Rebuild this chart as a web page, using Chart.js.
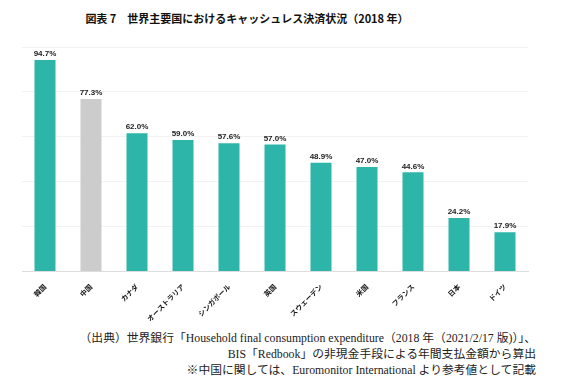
<!DOCTYPE html>
<html>
<head>
<meta charset="utf-8">
<script src="https://cdn.jsdelivr.net/npm/chart.js@4"></script>
<style>
  body { margin: 0; background: #fff; width: 570px; height: 387px; position: relative; overflow: hidden; }
  #titulo { position: absolute; left: 0; width: 494px; top: 10px; text-align: center; font: bold 11px 'Noto Sans CJK JP', sans-serif; color: #111; white-space: nowrap; }
  #wrap { position: absolute; left: 0; top: 0; width: 570px; height: 326px; }
  #pie { position: absolute; right: 34px; top: 331px; text-align: right; font: 11.8px 'Liberation Serif', 'Noto Sans CJK JP', serif; color: #222; line-height: 15.8px; white-space: nowrap; }
</style>
</head>
<body>
<div id="titulo">図表 7　世界主要国におけるキャッシュレス決済状況（2018 年）</div>
<div id="wrap"><canvas id="grafico"></canvas></div>
<div id="pie">（出典）世界銀行「Household final consumption expenditure（2018 年（2021/2/17 版)）」、<br>BIS「Redbook」の非現金手段による年間支払金額から算出<br>※中国に関しては、Euromonitor International より参考値として記載</div>
<script>
const paises = ['韓国', '中国', 'カナダ', 'オーストラリア', 'シンガポール', '英国', 'スウェーデン', '米国', 'フランス', '日本', 'ドイツ'];
const valores = [94.7, 77.3, 62.0, 59.0, 57.6, 57.0, 48.9, 47.0, 44.6, 24.2, 17.9];
const colores = paises.map(p => p === '中国' ? '#cccccc' : '#2eb5aa');

// etiquetas encima de cada barra
const etiquetas = {
    id: 'etiquetas',
    afterDatasetsDraw(chart) {
        const ctx = chart.ctx;
        const meta = chart.getDatasetMeta(0);
        ctx.save();
        ctx.font = 'bold 8px "Liberation Sans", sans-serif';
        ctx.fillStyle = '#222';
        ctx.textAlign = 'center';
        ctx.textBaseline = 'bottom';
        meta.data.forEach((bar, i) => {
            ctx.fillText(valores[i].toFixed(1) + '%', bar.x, bar.y - 1);
        });
        ctx.restore();
    }
};

const ctx = document.getElementById('grafico').getContext('2d');
const miGrafico = new Chart(ctx, {
    type: 'bar',
    data: {
        labels: paises,
        datasets: [{
            data: valores,
            backgroundColor: colores,
            borderColor: 'rgba(255,255,255,0.5)',
            borderWidth: 1,
            barPercentage: 0.5,
            categoryPercentage: 1
        }]
    },
    options: {
        responsive: true,
        maintainAspectRatio: false,
        animation: false,
        layout: { padding: { left: 22, right: 42, top: 47 } },
        plugins: { legend: { display: false }, tooltip: { enabled: false } },
        scales: {
            x: {
                grid: { display: false },
                border: { color: '#dddddd' },
                ticks: {
                    minRotation: 45,
                    maxRotation: 45,
                    color: '#111',
                    font: { size: 7, weight: 'bold', family: 'Noto Sans CJK JP' }
                }
            },
            y: {
                min: 0,
                max: 100,
                ticks: { display: false, stepSize: 20 },
                border: { display: false },
                grid: { color: '#f2f2f2', drawTicks: false }
            }
        }
    },
    plugins: [etiquetas]
});
</script>
</body>
</html>
